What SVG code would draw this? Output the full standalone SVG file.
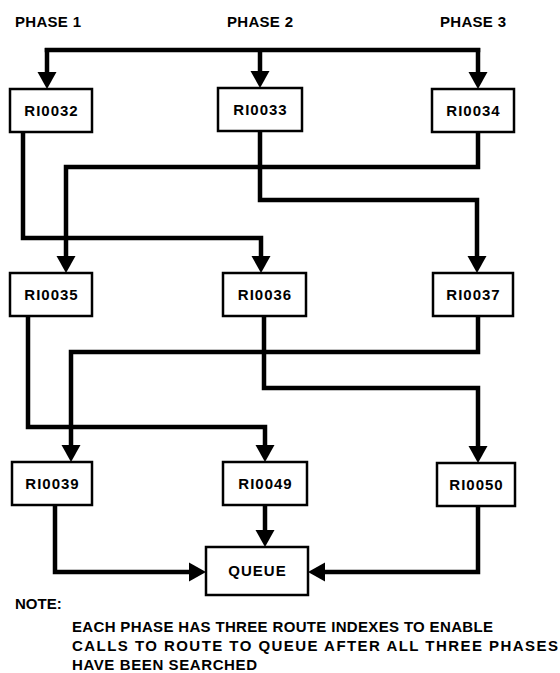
<svg xmlns="http://www.w3.org/2000/svg" width="560" height="673" viewBox="0 0 560 673">
  <style>
    .box { fill: #fff; stroke: #000; stroke-width: 2.5; }
    .lbl { font-family: "Liberation Sans", Arial, sans-serif; font-weight: bold; font-size: 15px; fill: #000; letter-spacing: 1px; }
    .hdr { font-family: "Liberation Sans", Arial, sans-serif; font-weight: bold; font-size: 15px; fill: #000; letter-spacing: 0.3px; }
    .note { font-family: "Liberation Sans", Arial, sans-serif; font-weight: bold; font-size: 15px; fill: #000; }
    .wire { fill: none; stroke: #000; stroke-width: 4.5; stroke-linejoin: miter; }
    .arr { marker-end: url(#head); }
  </style>
  <defs>
    <marker id="head" markerUnits="userSpaceOnUse" markerWidth="18" markerHeight="19" refX="0" refY="9.5" orient="auto" overflow="visible">
      <path d="M0,0 L17,9.5 L0,19 Z" fill="#000"/>
    </marker>
  </defs>

  <!-- phase headings -->
  <g id="headings">
    <text class="hdr" x="15" y="27">PHASE 1</text>
    <text class="hdr" x="227" y="27">PHASE 2</text>
    <text class="hdr" x="440" y="27">PHASE 3</text>
  </g>

  <!-- connectors -->
  <g id="connectors">
    <!-- incoming bus -->
    <path class="wire" d="M44.75,50 H480.25"/>
    <path class="wire arr" d="M47,48 V72"/>
    <path class="wire arr" d="M260,50 V71"/>
    <path class="wire arr" d="M478,48 V72"/>
    <!-- row 1 to row 2 -->
    <path class="wire arr" d="M23,132 V238 H261 V256"/>
    <path class="wire arr" d="M260,131 V200 H477 V256"/>
    <path class="wire arr" d="M478,132 V167 H66 V256"/>
    <!-- row 2 to row 3 -->
    <path class="wire arr" d="M28,316 V427 H265 V445"/>
    <path class="wire arr" d="M264,316 V388 H478 V446"/>
    <path class="wire arr" d="M478,316 V352 H71 V445"/>
    <!-- row 3 to queue -->
    <path class="wire arr" d="M55,505 V572 H189"/>
    <path class="wire arr" d="M265,505 V530"/>
    <path class="wire arr" d="M478,506 V572 H325"/>
  </g>

  <!-- route index nodes -->
  <g id="ri0032"><rect class="box" x="10" y="89" width="82" height="43"/><text class="lbl" x="51.5" y="116" text-anchor="middle">RI0032</text></g>
  <g id="ri0033"><rect class="box" x="218" y="88" width="84" height="43"/><text class="lbl" x="260.5" y="115" text-anchor="middle">RI0033</text></g>
  <g id="ri0034"><rect class="box" x="432" y="89" width="82" height="43"/><text class="lbl" x="473.5" y="116" text-anchor="middle">RI0034</text></g>

  <g id="ri0035"><rect class="box" x="10" y="273" width="82" height="43"/><text class="lbl" x="51.5" y="300" text-anchor="middle">RI0035</text></g>
  <g id="ri0036"><rect class="box" x="223" y="273" width="83" height="43"/><text class="lbl" x="265" y="300" text-anchor="middle">RI0036</text></g>
  <g id="ri0037"><rect class="box" x="433" y="273" width="80" height="43"/><text class="lbl" x="473.5" y="300" text-anchor="middle">RI0037</text></g>

  <g id="ri0039"><rect class="box" x="12" y="462" width="80" height="43"/><text class="lbl" x="52.5" y="489" text-anchor="middle">RI0039</text></g>
  <g id="ri0049"><rect class="box" x="223" y="462" width="84" height="43"/><text class="lbl" x="265.5" y="489" text-anchor="middle">RI0049</text></g>
  <g id="ri0050"><rect class="box" x="437" y="463" width="78" height="43"/><text class="lbl" x="476.5" y="490" text-anchor="middle">RI0050</text></g>

  <!-- destination -->
  <g id="queue"><rect class="box" x="206" y="547" width="102" height="48"/><text class="lbl" x="257.5" y="576" text-anchor="middle">QUEUE</text></g>

  <!-- footnote -->
  <g id="note">
    <text class="note" x="15" y="609">NOTE:</text>
    <text class="note" x="72" y="632" textLength="421" lengthAdjust="spacing">EACH PHASE HAS THREE ROUTE INDEXES TO ENABLE</text>
    <text class="note" x="72" y="651" textLength="486" lengthAdjust="spacing">CALLS TO ROUTE TO QUEUE AFTER ALL THREE PHASES</text>
    <text class="note" x="72" y="670" textLength="185" lengthAdjust="spacing">HAVE BEEN SEARCHED</text>
  </g>
</svg>
